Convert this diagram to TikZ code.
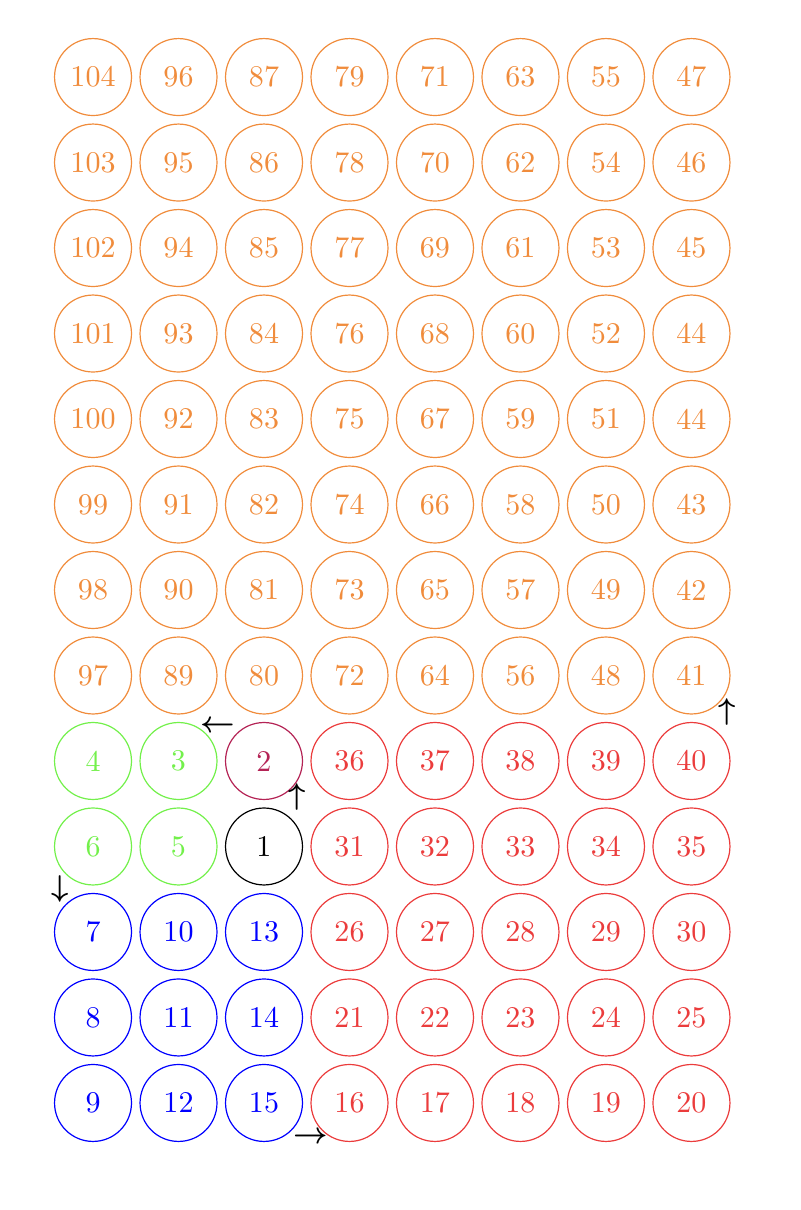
\documentclass[tikz,border=0pt]{standalone}
\usepackage{xcolor}
\definecolor{orng}{RGB}{240,140,60}
\definecolor{lgrn}{RGB}{115,240,75}
\definecolor{rd}{RGB}{235,60,60}
\definecolor{mrn}{RGB}{180,35,85}
\begin{document}
\begin{tikzpicture}[cell/.style={circle,draw,minimum size=0.9cm,inner sep=0pt},
  og/.style={cell,draw=orng,text=orng}, gr/.style={cell,draw=lgrn,text=lgrn},
  rr/.style={cell,draw=rd,text=rd}, bb/.style={cell,draw=blue,text=blue},
  arr/.style={inner sep=0pt,font=\boldmath}]
\useasboundingbox (-1.088,-13.252) rectangle (8.274,0.901);
% upper block
\node[og] (n104) at (0,0) {104}; \node[og] (n96) at (1,0) {96}; \node[og] (n87) at (2,0) {87}; \node[og] (n79) at (3,0) {79}; \node[og] (n71) at (4,0) {71}; \node[og] (n63) at (5,0) {63}; \node[og] (n55) at (6,0) {55}; \node[og] (n47) at (7,0) {47};
\node[og] (n103) at (0,-1) {103}; \node[og] (n95) at (1,-1) {95}; \node[og] (n86) at (2,-1) {86}; \node[og] (n78) at (3,-1) {78}; \node[og] (n70) at (4,-1) {70}; \node[og] (n62) at (5,-1) {62}; \node[og] (n54) at (6,-1) {54}; \node[og] (n46) at (7,-1) {46};
\node[og] (n102) at (0,-2) {102}; \node[og] (n94) at (1,-2) {94}; \node[og] (n85) at (2,-2) {85}; \node[og] (n77) at (3,-2) {77}; \node[og] (n69) at (4,-2) {69}; \node[og] (n61) at (5,-2) {61}; \node[og] (n53) at (6,-2) {53}; \node[og] (n45) at (7,-2) {45};
\node[og] (n101) at (0,-3) {101}; \node[og] (n93) at (1,-3) {93}; \node[og] (n84) at (2,-3) {84}; \node[og] (n76) at (3,-3) {76}; \node[og] (n68) at (4,-3) {68}; \node[og] (n60) at (5,-3) {60}; \node[og] (n52) at (6,-3) {52}; \node[og] (n44) at (7,-3) {44};
\node[og] (n100) at (0,-4) {100}; \node[og] (n92) at (1,-4) {92}; \node[og] (n83) at (2,-4) {83}; \node[og] (n75) at (3,-4) {75}; \node[og] (n67) at (4,-4) {67}; \node[og] (n59) at (5,-4) {59}; \node[og] (n51) at (6,-4) {51}; \node[og] (n44b) at (7,-4) {44};
\node[og] (n99) at (0,-5) {99}; \node[og] (n91) at (1,-5) {91}; \node[og] (n82) at (2,-5) {82}; \node[og] (n74) at (3,-5) {74}; \node[og] (n66) at (4,-5) {66}; \node[og] (n58) at (5,-5) {58}; \node[og] (n50) at (6,-5) {50}; \node[og] (n43) at (7,-5) {43};
\node[og] (n98) at (0,-6) {98}; \node[og] (n90) at (1,-6) {90}; \node[og] (n81) at (2,-6) {81}; \node[og] (n73) at (3,-6) {73}; \node[og] (n65) at (4,-6) {65}; \node[og] (n57) at (5,-6) {57}; \node[og] (n49) at (6,-6) {49}; \node[og] (n42) at (7,-6) {42};
\node[og] (n97) at (0,-7) {97}; \node[og] (n89) at (1,-7) {89}; \node[og] (n80) at (2,-7) {80}; \node[og] (n72) at (3,-7) {72}; \node[og] (n64) at (4,-7) {64}; \node[og] (n56) at (5,-7) {56}; \node[og] (n48) at (6,-7) {48}; \node[og] (n41) at (7,-7) {41};
% lower block
\node[gr] (n4) at (0,-8) {4}; \node[gr] (n3) at (1,-8) {3}; \node[cell,draw=mrn,text=mrn] (n2) at (2,-8) {2}; \node[rr] (n36) at (3,-8) {36}; \node[rr] (n37) at (4,-8) {37}; \node[rr] (n38) at (5,-8) {38}; \node[rr] (n39) at (6,-8) {39}; \node[rr] (n40) at (7,-8) {40};
\node[gr] (n6) at (0,-9) {6}; \node[gr] (n5) at (1,-9) {5}; \node[cell] (n1) at (2,-9) {1}; \node[rr] (n31) at (3,-9) {31}; \node[rr] (n32) at (4,-9) {32}; \node[rr] (n33) at (5,-9) {33}; \node[rr] (n34) at (6,-9) {34}; \node[rr] (n35) at (7,-9) {35};
\node[bb] (n7) at (0,-10) {7}; \node[bb] (n10) at (1,-10) {10}; \node[bb] (n13) at (2,-10) {13}; \node[rr] (n26) at (3,-10) {26}; \node[rr] (n27) at (4,-10) {27}; \node[rr] (n28) at (5,-10) {28}; \node[rr] (n29) at (6,-10) {29}; \node[rr] (n30) at (7,-10) {30};
\node[bb] (n8) at (0,-11) {8}; \node[bb] (n11) at (1,-11) {11}; \node[bb] (n14) at (2,-11) {14}; \node[rr] (n21) at (3,-11) {21}; \node[rr] (n22) at (4,-11) {22}; \node[rr] (n23) at (5,-11) {23}; \node[rr] (n24) at (6,-11) {24}; \node[rr] (n25) at (7,-11) {25};
\node[bb] (n9) at (0,-12) {9}; \node[bb] (n12) at (1,-12) {12}; \node[bb] (n15) at (2,-12) {15}; \node[rr] (n16) at (3,-12) {16}; \node[rr] (n17) at (4,-12) {17}; \node[rr] (n18) at (5,-12) {18}; \node[rr] (n19) at (6,-12) {19}; \node[rr] (n20) at (7,-12) {20};
% turn marks
\node[arr] (a2) at (2.39,-8.42) {$\uparrow$}; \node[arr] (a3) at (1.46,-7.6) {$\leftarrow$};
\node[arr] (a6) at (-0.39,-9.5) {$\downarrow$}; \node[arr] (a15) at (2.55,-12.4) {$\rightarrow$};
\node[arr] (a40) at (7.42,-7.43) {$\uparrow$};
\end{tikzpicture}
\end{document}
